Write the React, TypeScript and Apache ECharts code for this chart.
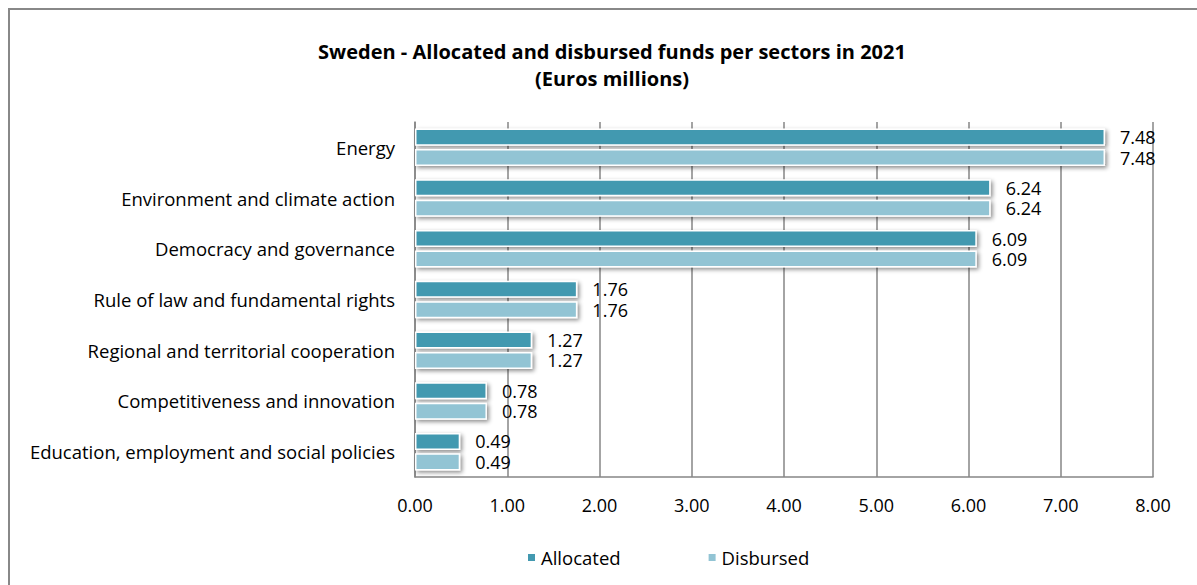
import React, { useEffect, useRef } from "react";
import * as echarts from "echarts";

const categories = [
  "Energy",
  "Environment and climate action",
  "Democracy and governance",
  "Rule of law and fundamental rights",
  "Regional and territorial cooperation",
  "Competitiveness and innovation",
  "Education, employment and social policies",
];
const allocated = [7.48, 6.24, 6.09, 1.76, 1.27, 0.78, 0.49];
const disbursed = [7.48, 6.24, 6.09, 1.76, 1.27, 0.78, 0.49];
const seriesNames = ["Allocated", "Disbursed"];
const titleText = "Sweden - Allocated and disbursed funds per sectors in 2021";
const subtitleText = "(Euros millions)";

const FONT = "'Open Sans', 'Noto Sans', sans-serif";

export default function App() {
  const ref = useRef<HTMLDivElement>(null);
  useEffect(() => {
    if (!ref.current) return;
    const chart = echarts.init(ref.current, undefined, { renderer: "svg" });
    const barStyle = (color: string) => ({
      color,
      borderColor: "#ffffff",
      borderWidth: 1.5,
      shadowBlur: 4,
      shadowOffsetX: 2,
      shadowOffsetY: 2,
      shadowColor: "rgba(0,0,0,0.45)",
    });
    const label = {
      show: true,
      position: "right",
      distance: 15,
      color: "#000",
      fontFamily: FONT,
      fontSize: 18,
      lineHeight: 16,
      formatter: (p: any) => Number(p.value).toFixed(2),
    };
    chart.setOption({
      animation: false,
      backgroundColor: "#ffffff",
      textStyle: { fontFamily: FONT },
      title: {
        text: titleText + "\n" + subtitleText,
        left: 607,
        textAlign: "center",
        top: 33,
        textStyle: {
          fontFamily: FONT,
          fontWeight: "bold",
          fontSize: 20,
          lineHeight: 27,
          color: "#000",
        },
      },
      legend: {
        data: seriesNames,
        bottom: 13,
        left: 521,
        itemGap: 86,
        itemWidth: 9,
        itemHeight: 9,
        icon: "rect",
        textStyle: { fontFamily: FONT, fontSize: 18.5, color: "#000" },
      },
      grid: { left: 415, right: 44, top: 122, bottom: 108, containLabel: false },
      xAxis: {
        type: "value",
        min: 0,
        max: 8,
        interval: 1,
        axisLine: { show: true, lineStyle: { color: "#868686", width: 1.5 } },
        axisTick: { show: false },
        splitLine: { show: true, lineStyle: { color: "#868686", width: 1.5 } },
        axisLabel: {
          fontFamily: FONT,
          fontSize: 18,
          color: "#000",
          margin: 19,
          formatter: (v: number) => v.toFixed(2),
        },
      },
      yAxis: {
        type: "category",
        data: categories,
        inverse: true,
        axisLine: { show: true, lineStyle: { color: "#868686", width: 1.5 } },
        axisTick: { show: false },
        axisLabel: { fontFamily: FONT, fontSize: 18.5, color: "#000", margin: 20 },
      },
      series: [
        {
          name: seriesNames[0],
          type: "bar",
          data: allocated,
          itemStyle: barStyle("#4399b0"),
          label,
          barGap: "20%",
          barCategoryGap: "26%",
        },
        {
          name: seriesNames[1],
          type: "bar",
          data: disbursed,
          itemStyle: barStyle("#92c4d4"),
          label,
        },
      ],
      graphic: [
        {
          type: "rect",
          shape: { x: 9, y: 9, width: 1300, height: 700 },
          style: { fill: "none", stroke: "#888888", lineWidth: 2 },
          silent: true,
        },
      ],
    });
    return () => chart.dispose();
  }, []);
  return (
    <div
      ref={ref}
      style={{ position: "fixed", left: 0, top: 0, width: 1197, height: 585 }}
    />
  );
}
